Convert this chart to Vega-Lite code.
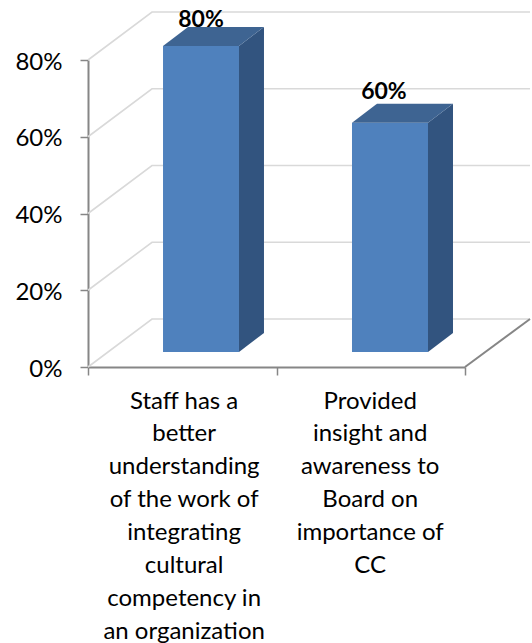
{
"$schema":"https://vega.github.io/schema/vega-lite/v6.json",
"width":377,"height":307,
"autosize":"none",
"padding":{"left":88,"top":60,"right":67,"bottom":276},
"background":"white",
"config":{"view":{"stroke":null}},
"datasets":{
"walls":[
{"g":"0%","x":0,"y":0},{"g":"0%","x":0.3395,"y":12.51},{"g":"0%","x":2.345,"y":12.51},
{"g":"20%","x":0,"y":20},{"g":"20%","x":0.3395,"y":32.51},{"g":"20%","x":2.345,"y":32.51},
{"g":"40%","x":0,"y":40},{"g":"40%","x":0.3395,"y":52.51},{"g":"40%","x":2.345,"y":52.51},
{"g":"60%","x":0,"y":60},{"g":"60%","x":0.3395,"y":72.51},{"g":"60%","x":2.345,"y":72.51},
{"g":"80%","x":0,"y":80},{"g":"80%","x":0.3395,"y":92.51},{"g":"80%","x":2.345,"y":92.51}
],
"floor":[{"x":2,"y":0},{"x":2.345,"y":12.51}],
"faces":[
{"category":"Staff","face":"front","x":0.398,"y":3.91,"y2":83.65},
{"category":"Staff","face":"front","x":0.801,"y":3.91,"y2":83.65},
{"category":"Staff","face":"side","x":0.801,"y":3.91,"y2":83.65},
{"category":"Staff","face":"side","x":0.9336,"y":8.86,"y2":88.6},
{"category":"Board","face":"front","x":1.4005,"y":3.91,"y2":63.66},
{"category":"Board","face":"front","x":1.8037,"y":3.91,"y2":63.66},
{"category":"Board","face":"side","x":1.8037,"y":3.91,"y2":63.66},
{"category":"Board","face":"side","x":1.9363,"y":8.86,"y2":68.61}
],
"tops":[
{"category":"Staff","y":83.65,"x":0.398,"x2":0.801},
{"category":"Staff","y":88.6,"x":0.5306,"x2":0.9336},
{"category":"Board","y":63.66,"x":1.4005,"x2":1.8037},
{"category":"Board","y":68.61,"x":1.5331,"x2":1.9363}
],
"values":[
{"label":"80%","x":0.5995,"y":88.7},
{"label":"60%","x":1.57,"y":69.8}
],
"categories":[
{"label":"Staff has a\nbetter\nunderstanding\nof the work of\nintegrating\ncultural\ncompetency in\nan organization","x":0.51,"y":0},
{"label":"Provided\ninsight and\nawareness to\nBoard on\nimportance of\nCC","x":1.497,"y":0}
]
},
"encoding":{
  "x":{"field":"x","type":"quantitative","title":null,"scale":{"domain":[0,2],"nice":false,"zero":false},
   "axis":{"values":[0,1,2],"labels":false,"title":null,"grid":false,"domainColor":"#868686","domainWidth":2,"tickColor":"#868686","tickWidth":1.5,"tickSize":8}},
  "y":{"field":"y","type":"quantitative","title":null,"scale":{"domain":[0,80],"nice":false,"zero":false},
   "axis":{"values":[0,20,40,60,80],"labelExpr":"datum.value + '%'","title":null,"grid":false,"domainColor":"#868686","domainWidth":2,"tickColor":"#868686","tickWidth":1.5,"tickSize":8,"labelFont":"Lato","labelFontSize":24,"labelColor":"#000000","labelPadding":18,"labelOffset":2}}
},
"layer":[
{"data":{"name":"walls"},
 "mark":{"type":"line","color":"#d9d9d9","strokeWidth":1.6},
 "encoding":{"detail":{"field":"g"},"order":{"field":"x","type":"quantitative"}}},
{"data":{"name":"floor"},
 "mark":{"type":"line","color":"#868686","strokeWidth":2}},
{"data":{"name":"faces"},"transform":[{"filter":"datum.face==='front'"}],
 "mark":{"type":"area","color":"#4f81bd","opacity":1},
 "encoding":{"y2":{"field":"y2"},"detail":{"field":"category"}}},
{"data":{"name":"faces"},"transform":[{"filter":"datum.face==='side'"}],
 "mark":{"type":"area","color":"#32547f","opacity":1},
 "encoding":{"y2":{"field":"y2"},"detail":{"field":"category"}}},
{"data":{"name":"tops"},
 "mark":{"type":"area","orient":"horizontal","color":"#3e6492","opacity":1},
 "encoding":{"x2":{"field":"x2"},"detail":{"field":"category"}}},
{"data":{"name":"values"},
 "mark":{"type":"text","font":"Lato","fontSize":23,"fontWeight":"bold","color":"#000000","align":"center","baseline":"alphabetic"},
 "encoding":{"text":{"field":"label"}}},
{"data":{"name":"categories"},
 "mark":{"type":"text","font":"Lato","fontSize":24,"color":"#000000","align":"center","baseline":"alphabetic","lineBreak":"\n","lineHeight":32.9,"dy":41.5},
 "encoding":{"text":{"field":"label"}}}
]
}
